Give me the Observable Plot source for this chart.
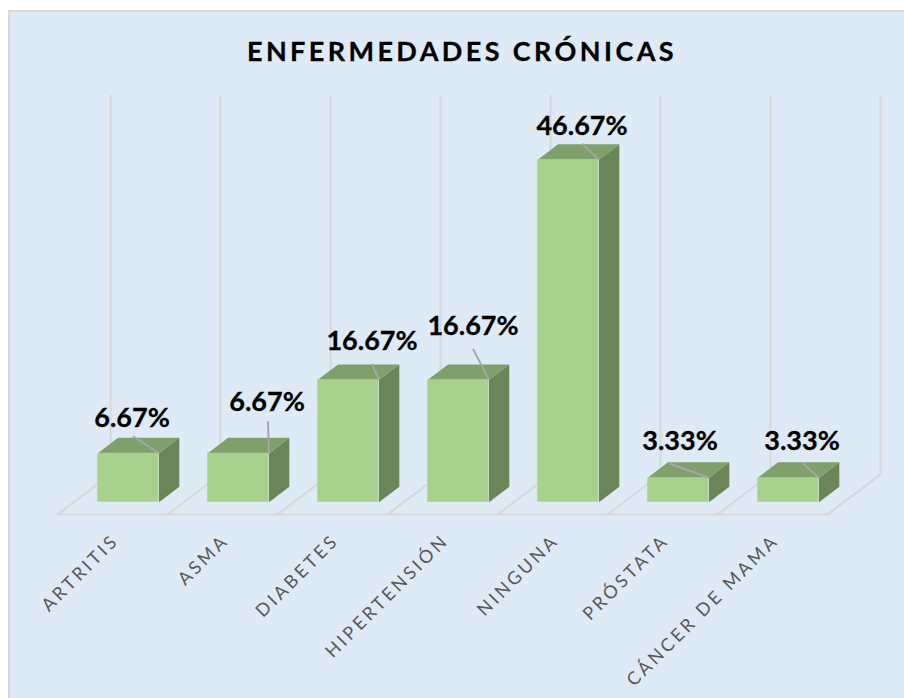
<!DOCTYPE html>
<html lang="es">
<head>
<meta charset="utf-8">
<script src="https://cdn.jsdelivr.net/npm/d3@7"></script>
<script src="https://cdn.jsdelivr.net/npm/@observablehq/plot@0.6"></script>
<style>
  html, body { margin: 0; padding: 0; background: #fff; }
  #page { position: relative; width: 904px; height: 698px; overflow: hidden; font-family: Lato, sans-serif; }
  #panel { position: absolute; left: 8px; top: 10px; right: -6px; bottom: -6px; background: #DEEAF6; border: 2px solid #D9D9D9; }
  #title { position: absolute; left: 0; width: 924px; top: 34px; text-align: center; font: 700 27px Lato, sans-serif; letter-spacing: 3.4px; color: #000; line-height: 34px; -webkit-text-stroke: 0.3px #000; }
  #chart { position: absolute; left: 0; top: 0; }
  #chart svg { background: transparent; display: block; }
  #chart [aria-label="x-axis tick label"] text { letter-spacing: 3.1px; }
</style>
</head>
<body>
<div id="page">
  <div id="panel"></div>
  <div id="title">ENFERMEDADES CRÓNICAS</div>
  <div id="chart"></div>
</div>
<script>
const categories = ["ARTRITIS", "ASMA", "DIABETES", "HIPERTENSIÓN", "NINGUNA", "PRÓSTATA", "CÁNCER DE MAMA"];
const values = [6.67, 6.67, 16.67, 16.67, 46.67, 3.33, 3.33];
const valueLabels = ["6.67%", "6.67%", "16.67%", "16.67%", "46.67%", "3.33%", "3.33%"];

// Layout (pixels, y down) of the oblique projection, kept apart from the data
const slotPx = 110, unitPx = 7.34;
const baseX = 73.3, baseY = 501.7;
const barLeftPx = 24, barWidthPx = 61.2;
const barDepth = [20.3, -15.4];
const floorFront = [-16.3, 12.3], floorBack = [36.7, -27.7];
const wallTopPx = 406.7;
// label centre and leader start, relative to each bar's front top-right corner
const labelOffset = [[-27, -35], [-2, -51], [-7, -38], [-16, -53], [-17, -33], [-29, -36], [-17, -36]];
const leaderOffset = [[-26, -17], [-1, -32], [-7, -16], [-16, -31], [-17, -16], [-39, -14], [-17, -15]];

const X = px => px / slotPx;
const Y = px => -px / unitPx;

const bars = categories.map((name, i) => {
  const left = i + X(barLeftPx), right = left + X(barWidthPx), top = values[i];
  return { name, i, left, right, top, label: valueLabels[i] };
});
const backX = X(barDepth[0]), backY = Y(barDepth[1]);

const topFace = bars.flatMap(b => [
  { id: b.i, x: b.left, y: b.top }, { id: b.i, x: b.right, y: b.top },
  { id: b.i, x: b.right + backX, y: b.top + backY }, { id: b.i, x: b.left + backX, y: b.top + backY }
]);
const sideFace = bars.flatMap(b => [
  { id: b.i, x: b.right, y: 0 }, { id: b.i, x: b.right, y: b.top },
  { id: b.i, x: b.right + backX, y: b.top + backY }, { id: b.i, x: b.right + backX, y: backY }
]);

const slots = d3.range(categories.length + 1);
const floorDiagonals = slots.map(k => ({
  x1: k + X(floorFront[0]), y1: Y(floorFront[1]), x2: k + X(floorBack[0]), y2: Y(floorBack[1])
}));
const floorEdge = [{
  x1: X(floorFront[0]), y1: Y(floorFront[1]),
  x2: categories.length + X(floorFront[0]), y2: Y(floorFront[1])
}];
const leaders = bars.map(b => ({
  x1: b.right + X(leaderOffset[b.i][0]), y1: b.top + Y(leaderOffset[b.i][1]),
  x2: b.right, y2: b.top
}));
const labels = bars.map(b => ({
  x: b.right + X(labelOffset[b.i][0]), y: b.top + Y(labelOffset[b.i][1]), label: b.label
}));

const grid = "#D9D9D9";
const chart = Plot.plot({
  width: 904,
  height: 698,
  marginBottom: 184,
  style: { background: "transparent", fontFamily: "Lato, sans-serif" },
  x: { type: "linear", domain: [0, categories.length], range: [baseX, baseX + slotPx * categories.length], axis: null },
  y: { domain: [0, 50], range: [baseY, baseY - 50 * unitPx], axis: null },
  marks: [
    Plot.ruleX(slots, { x: k => k + X(floorBack[0]), y1: Y(floorBack[1]), y2: wallTopPx / unitPx, stroke: grid, strokeWidth: 2.2 }),
    Plot.link(floorDiagonals, { x1: "x1", y1: "y1", x2: "x2", y2: "y2", stroke: grid, strokeWidth: 2.2 }),
    Plot.link(floorEdge, { x1: "x1", y1: "y1", x2: "x2", y2: "y2", stroke: grid, strokeWidth: 2.2 }),
    Plot.line(sideFace, { x: "x", y: "y", z: "id", fill: "#6B8559", stroke: "none" }),
    Plot.line(topFace, { x: "x", y: "y", z: "id", fill: "#7F9F6B", stroke: "none" }),
    Plot.rect(bars, { x1: "left", x2: "right", y1: 0, y2: "top", fill: "#A9D18E" }),
    Plot.link(leaders, { x1: "x1", y1: "y1", x2: "x2", y2: "y2", stroke: "#A6A6A6", strokeWidth: 2 }),
    Plot.text(labels, { x: "x", y: "y", text: "label", fontSize: 27, fontWeight: 700, fill: "#000", stroke: "#000", strokeWidth: 0.3, textAnchor: "middle", lineAnchor: "middle" }),
    Plot.axisX({
      anchor: "bottom",
      ticks: categories.map((_, i) => i + 0.5),
      tickFormat: v => categories[Math.floor(v)],
      tickRotate: -45,
      tickSize: 0,
      tickPadding: 0,
      fontSize: 18,
      fill: "#595959",
      dx: -13,
      dy: 23,
      label: null
    })
  ]
});
document.getElementById("chart").append(chart);
</script>
</body>
</html>
